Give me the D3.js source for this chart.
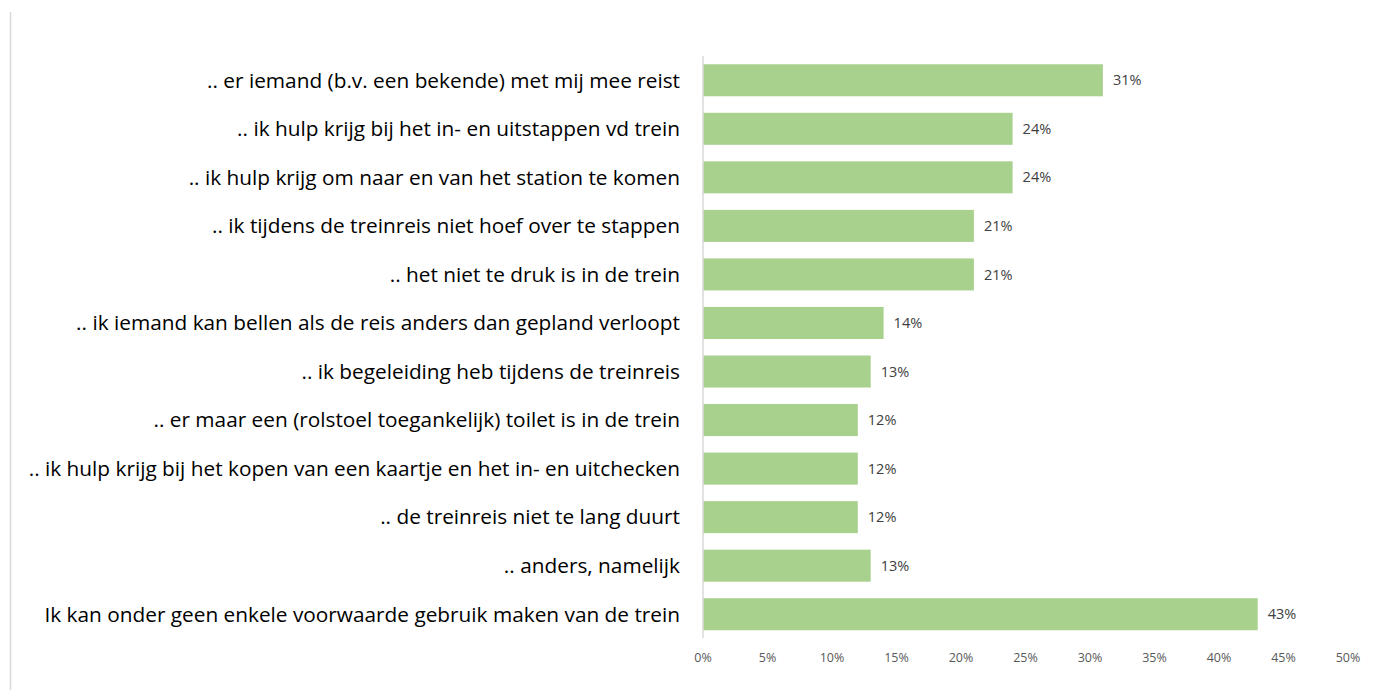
<!DOCTYPE html>
<html>
<head>
<meta charset="utf-8">
<script src="https://cdn.jsdelivr.net/npm/d3@7"></script>
<style>
  body { margin: 0; background: #fff; }
  text { font-family: "Open Sans", "Noto Sans", sans-serif; }
</style>
</head>
<body>
<div id="chart"></div>
<script>
const categories = [
  ".. er iemand (b.v. een bekende) met mij mee reist",
  ".. ik hulp krijg bij het in- en uitstappen vd trein",
  ".. ik hulp krijg om naar en van het station te komen",
  ".. ik tijdens de treinreis niet hoef over te stappen",
  ".. het niet te druk is in de trein",
  ".. ik iemand kan bellen als de reis anders dan gepland verloopt",
  ".. ik begeleiding heb tijdens de treinreis",
  ".. er maar een (rolstoel toegankelijk) toilet is in de trein",
  ".. ik hulp krijg bij het kopen van een kaartje en het in- en uitchecken",
  ".. de treinreis niet te lang duurt",
  ".. anders, namelijk",
  "Ik kan onder geen enkele voorwaarde gebruik maken van de trein"
];
const values = [31, 24, 24, 21, 21, 14, 13, 12, 12, 12, 13, 43];
const xTicks = [0, 5, 10, 15, 20, 25, 30, 35, 40, 45, 50];

const width = 1377, height = 690;
const svg = d3.select("#chart").append("svg")
  .attr("width", width)
  .attr("height", height);

// chart area border on the left
svg.append("line")
  .attr("x1", 10.5).attr("x2", 10.5)
  .attr("y1", 12).attr("y2", height)
  .attr("stroke", "#d9d9d9")
  .attr("stroke-width", 1.5);

const x = d3.scaleLinear().domain([0, 50]).range([703, 1348]);
const y = d3.scaleBand()
  .domain(categories)
  .range([56, 638.5])
  .paddingInner(0.34)
  .paddingOuter(0.17);

svg.append("g")
  .selectAll("rect")
  .data(values)
  .join("rect")
  .attr("x", x(0))
  .attr("y", (d, i) => y(categories[i]))
  .attr("width", d => x(d) - x(0))
  .attr("height", y.bandwidth())
  .attr("fill", "#a9d18e");

// vertical axis line
svg.append("line")
  .attr("x1", x(0)).attr("x2", x(0))
  .attr("y1", 56).attr("y2", 638)
  .attr("stroke", "#d9d9d9")
  .attr("stroke-width", 1.5);

// category labels
svg.append("g")
  .selectAll("text")
  .data(categories)
  .join("text")
  .attr("x", 680)
  .attr("y", d => y(d) + y.bandwidth() / 2)
  .attr("dy", "0.35em")
  .attr("text-anchor", "end")
  .attr("font-size", 20.8)
  .attr("fill", "#000")
  .text(d => d);

// value labels
svg.append("g")
  .selectAll("text")
  .data(values)
  .join("text")
  .attr("x", d => x(d) + 10)
  .attr("y", (d, i) => y(categories[i]) + y.bandwidth() / 2)
  .attr("dy", "0.35em")
  .attr("font-size", 14.5)
  .attr("fill", "#404040")
  .text(d => d + "%");

// x tick labels
svg.append("g")
  .selectAll("text")
  .data(xTicks)
  .join("text")
  .attr("x", d => x(d))
  .attr("y", 658)
  .attr("dy", "0.35em")
  .attr("text-anchor", "middle")
  .attr("font-size", 12.5)
  .attr("fill", "#595959")
  .text(d => d + "%");
</script>
</body>
</html>
